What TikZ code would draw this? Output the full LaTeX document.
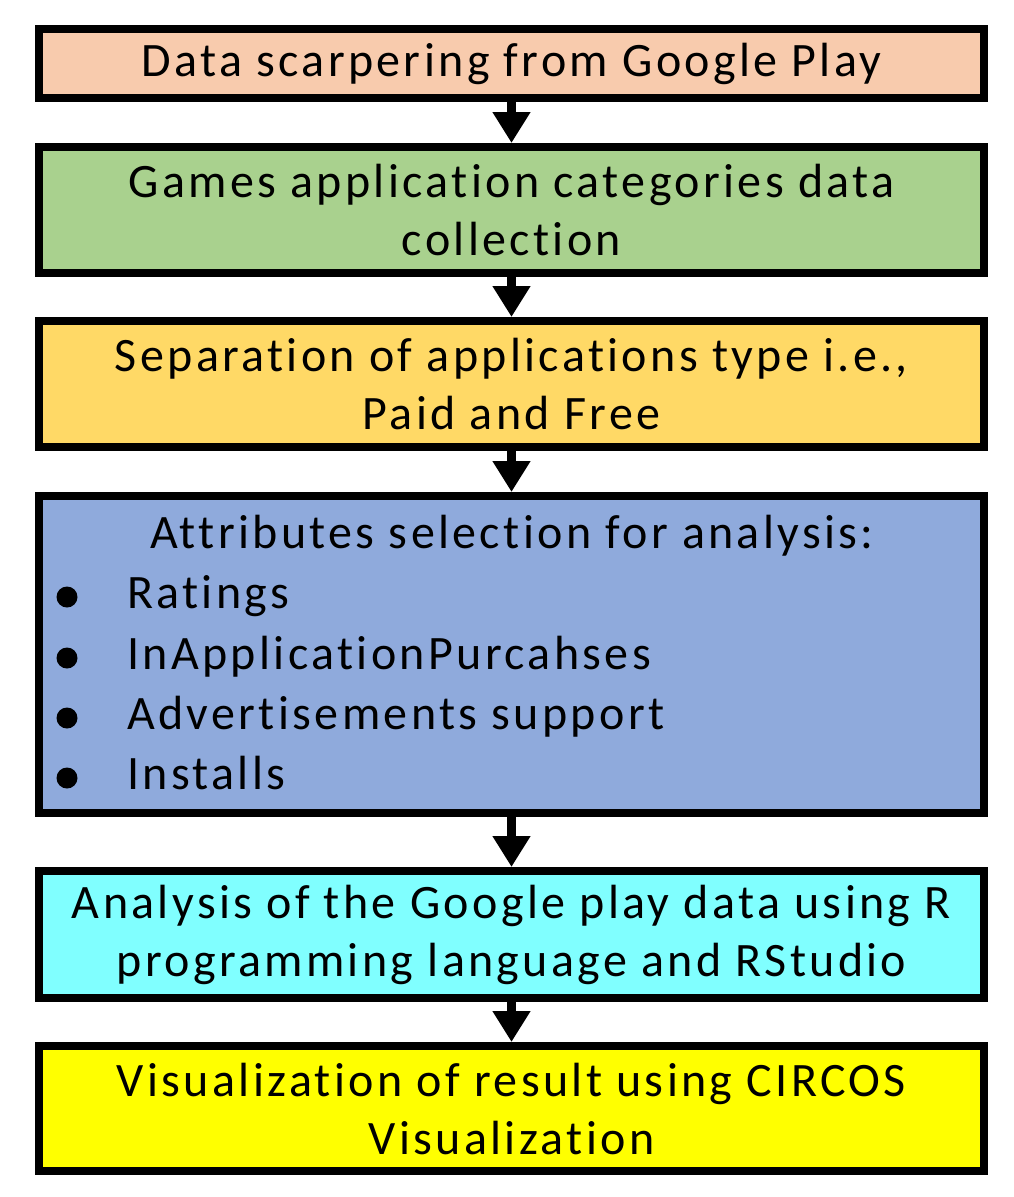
\documentclass[tikz,border=0pt]{standalone}
\usepackage{fontspec}
\setmainfont{Carlito}[Ligatures=NoCommon, LetterSpace=7]
\usetikzlibrary{arrows.meta}
\definecolor{cpeach}{HTML}{F8CBAD}
\definecolor{cgreen}{HTML}{A9D18E}
\definecolor{cgold}{HTML}{FFD966}
\definecolor{cblue}{HTML}{8FAADC}
\definecolor{ccyan}{HTML}{80FFFF}
\definecolor{cyel}{HTML}{FFFF00}
\tikzset{
  stepbox/.style={draw=black, line width=8pt, minimum width=945pt, inner sep=0pt,
    align=center, font=\fontsize{48}{58}\selectfont},
  flowarrow/.style={line width=9pt, -{Triangle[width=36pt,length=31pt]}},
  listtext/.style={anchor=base west, inner sep=0pt, font=\fontsize{48}{58}\selectfont},
  bulletdot/.style={circle, fill=black, inner sep=0pt, minimum size=21pt},
}
\begin{document}
\begin{tikzpicture}[x=1pt,y=-1pt]
\useasboundingbox (0,0) rectangle (1014,1197);
\node[stepbox, fill=cpeach, minimum height=69pt] (b1) at (511.5,63.5) {Data scarpering from Google Play};
\node[stepbox, fill=cgreen, minimum height=126pt] (b2) at (511.5,210) {Games application categories data\\collection};
\node[stepbox, fill=cgold, minimum height=126pt] (b3) at (511.5,384) {Separation of applications type i.e.,\\Paid and Free};
\node[stepbox, fill=cblue, minimum height=317pt] (b4) at (511.5,654.5) {};
\node[stepbox, fill=ccyan, minimum height=127pt] (b5) at (511.5,934.5) {Analysis of the Google play data using R\\programming language and RStudio};
\node[stepbox, fill=cyel, minimum height=125pt] (b6) at (511.5,1108.5) {Visualization of result using CIRCOS\\Visualization};
% list content of box 4
\node[listtext, anchor=base] (t0) at (512,548) {Attributes selection for analysis:};
\foreach \y/\txt/\n in {608/Ratings/1, 669/InApplicationPurcahses/2, 729/Advertisements support/3, 789/Installs/4}{
  \node[bulletdot] (d\n) at (67,\y-11) {};
  \node[listtext] (l\n) at (127,\y) {\txt};
}
\draw[flowarrow] (b1.south) -- (b2.north);
\draw[flowarrow] (b2.south) -- (b3.north);
\draw[flowarrow] (b3.south) -- (b4.north);
\draw[flowarrow] (b4.south) -- (b5.north);
\draw[flowarrow] (b5.south) -- (b6.north);
\end{tikzpicture}
\end{document}
